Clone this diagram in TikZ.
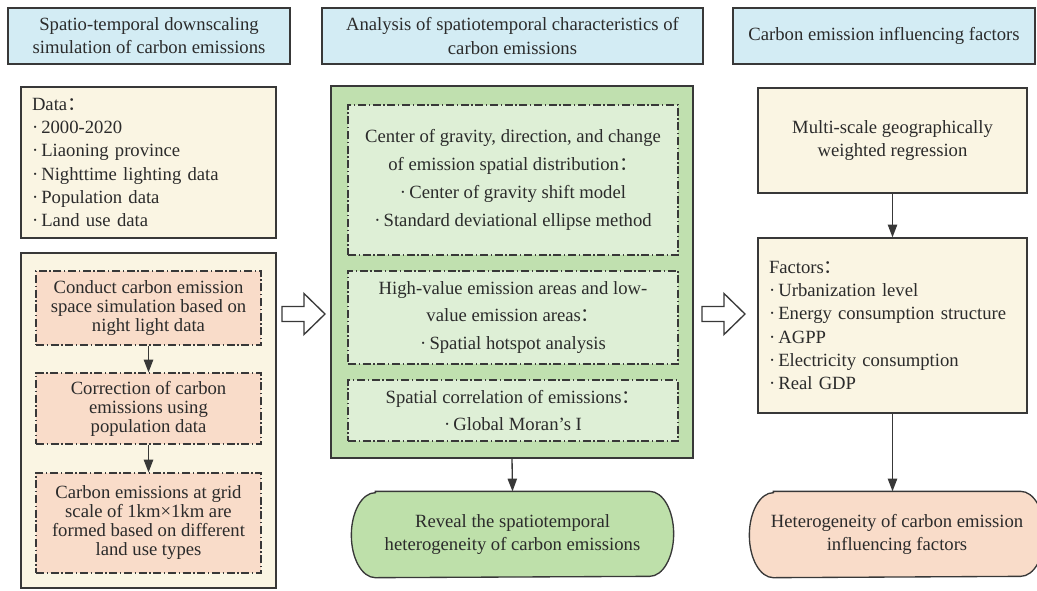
\documentclass[tikz,border=0pt]{standalone}
\usepackage{fontspec}
\setmainfont{Liberation Serif}
\newfontfamily\cjkfont{Noto Sans CJK SC}
\usetikzlibrary{arrows.meta,backgrounds}
\newcommand\fwc{{\cjkfont ：}}
\definecolor{txt}{HTML}{2B2B2B}
\definecolor{bdr}{HTML}{383838}
\definecolor{hblue}{HTML}{D3ECF4}
\definecolor{creamf}{HTML}{FAF5E3}
\definecolor{pinkf}{HTML}{F9DCC9}
\definecolor{gouter}{HTML}{C0E0AF}
\definecolor{ginner}{HTML}{DEEFD6}
\definecolor{goval}{HTML}{BEE0AA}
\tikzset{
  base/.style={draw=bdr, line width=1pt, font=\fontsize{14}{17.4}\selectfont, align=center},
  headbox/.style={base, fill=hblue, minimum height=42pt},
  creambox/.style={base, fill=creamf},
  dashdot/.style={line width=0.9pt, dash pattern=on 6pt off 2pt on 1pt off 2pt},
  pinkbox/.style={base, dashdot, fill=pinkf, font=\fontsize{14}{14.25}\selectfont, minimum width=168.75pt},
  greenbox/.style={base, dashdot, fill=ginner, font=\fontsize{14}{20.8}\selectfont, minimum width=247.5pt},
  ovaltext/.style={base, draw=none, minimum height=63.75pt},
  ovalline/.style={draw=bdr, line width=1pt},
  link/.style={draw=bdr, line width=1pt, -{Triangle[width=7pt,length=9.5pt]}},
  hollow/.style={draw=bdr, line width=1pt, fill=white, line join=miter}
}
\begin{document}
\begin{tikzpicture}[x=0.75pt,y=-0.75pt, every node/.style={inner sep=0pt, text=txt}]
\useasboundingbox (0,0) rectangle (1037,590);

% headers
\node[headbox, minimum width=211.5pt] (h1) at (149,36) {Spatio-temporal downscaling\\simulation of carbon emissions};
\node[headbox, minimum width=285.75pt] (h2) at (512.5,36) {Analysis of spatiotemporal characteristics of\\carbon emissions};
\node[headbox, minimum width=226.5pt] (h3) at (884,36) {Carbon emission influencing factors};

% left column
\node[creambox, minimum height=113.25pt, align=left, text width=174.75pt, inner xsep=8.25pt] (data) at (148.5,162.5)
  {Data\fwc\\·\,2000-2020\\·\,Liaoning province\\·\,Nighttime lighting data\\·\,Population data\\·\,Land use data};
\node[creambox, minimum width=191.25pt, minimum height=251.25pt] (leftbox) at (148.5,420.5) {};
\node[pinkbox, minimum height=55.5pt] (p1) at (148.5,308) {Conduct carbon emission\\space simulation based on\\night light data};
\node[pinkbox, minimum height=53.25pt] (p2) at (148.5,408.5) {Correction of carbon\\emissions using\\population data};
\node[pinkbox, minimum height=75pt] (p3) at (148.5,523) {Carbon emissions at grid\\scale of 1km×1km are\\formed based on different\\land use types};
\draw[link] (p1.south) -- (p2.north);
\draw[link] (p2.south) -- (p3.north);

% middle column
\node[base, fill=gouter, minimum width=271.5pt, minimum height=279pt] (gbox) at (512,272) {};
\node[greenbox, minimum height=112.5pt] (g1) at (513,180) {Center of gravity, direction, and change\\of emission spatial distribution\fwc\\·\,Center of gravity shift model\\·\,Standard deviational ellipse method};
\node[greenbox, minimum height=69.75pt] (g2) at (513,317.5) {High-value emission areas and low-\\value emission areas\fwc\\·\,Spatial hotspot analysis};
\node[greenbox, minimum height=45.75pt] (g3) at (513,410.5) {Spatial correlation of emissions\fwc\\·\,Global Moran’s I};
\node[ovaltext, minimum width=240.75pt] (goval) at (512.5,534.5) {Reveal the spatiotemporal\\heterogeneity of carbon emissions};
\begin{scope}[on background layer]
\path[ovalline, fill=goval] ([xshift=18pt]goval.north west) -- ([xshift=-18pt]goval.north east)
  arc[start angle=-90, end angle=90, x radius=24, y radius=42.5]
  -- ([xshift=18pt]goval.south west)
  arc[start angle=90, end angle=270, x radius=24, y radius=42.5] -- cycle;
\end{scope}
\draw[link] (gbox.south) -- (goval.north);

% right column
\node[creambox, minimum width=201.75pt, minimum height=78.75pt] (mgwr) at (892.5,140.5) {Multi-scale geographically\\weighted regression};
\node[creambox, minimum height=131.25pt, align=left, text width=185.25pt, inner xsep=8.25pt] (factors) at (892.5,325.5)
  {Factors\fwc\\·\,Urbanization level\\·\,Energy consumption structure\\·\,AGPP\\·\,Electricity consumption\\·\,Real GDP};
\node[ovaltext, minimum width=220.5pt] (poval) at (897,534.5) {Heterogeneity of carbon emission\\influencing factors};
\begin{scope}[on background layer]
\path[ovalline, fill=pinkf] ([xshift=18pt]poval.north west) -- ([xshift=-18pt]poval.north east)
  arc[start angle=-90, end angle=90, x radius=24, y radius=42.5]
  -- ([xshift=18pt]poval.south west)
  arc[start angle=90, end angle=270, x radius=24, y radius=42.5] -- cycle;
\end{scope}
\draw[link] (mgwr.south) -- (factors.north);
\draw[link] (factors.south) -- (factors.south |- poval.north);

% hollow arrows
\coordinate (ha1) at (282,314);
\coordinate (ha2) at (702,314);
\draw[hollow] (ha1) ++(0,-7.5) -- ++(22,0) -- ++(0,-13) -- ++(21,20.5) -- ++(-21,20.5) -- ++(0,-13) -- ++(-22,0) -- cycle;
\draw[hollow] (ha2) ++(0,-7.5) -- ++(22,0) -- ++(0,-13) -- ++(21,20.5) -- ++(-21,20.5) -- ++(0,-13) -- ++(-22,0) -- cycle;
\end{tikzpicture}
\end{document}
